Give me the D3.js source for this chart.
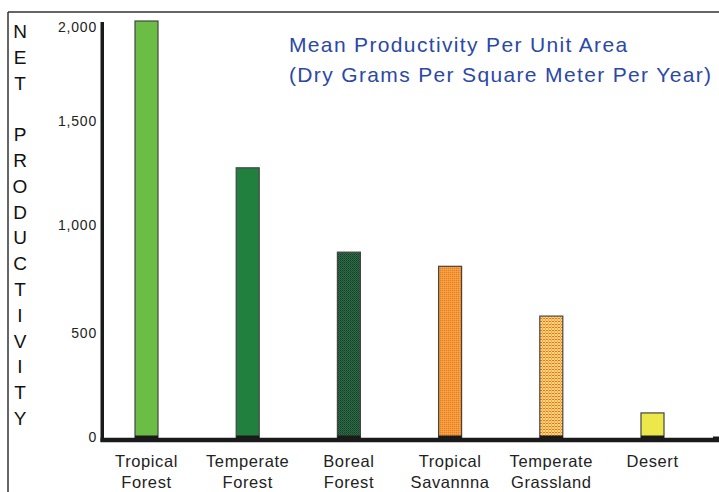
<!DOCTYPE html>
<html>
<head>
<meta charset="utf-8">
<script src="https://cdn.jsdelivr.net/npm/d3@7/dist/d3.min.js"></script>
<style>
  html, body { margin: 0; padding: 0; background: #fff; }
  svg { display: block; }
  text { font-family: "Liberation Sans", Arial, sans-serif; }
</style>
</head>
<body>
<svg id="chart" width="719" height="492"></svg>
<script>
// ---- data ----
const categories = ["Tropical Forest", "Temperate Forest", "Boreal Forest", "Tropical Savannna", "Temperate Grassland", "Desert"];
const labelLines = [["Tropical", "Forest"], ["Temperate", "Forest"], ["Boreal", "Forest"], ["Tropical", "Savannna"], ["Temperate", "Grassland"], ["Desert"]];
const productivity = [2000, 1295, 890, 822, 583, 118];
const yTicks = [0, 500, 1000, 1500, 2000];
const titleLines = ["Mean Productivity Per Unit Area", "(Dry Grams Per Square Meter Per Year)"];
const yAxisTitle = "NET PRODUCTIVITY";
const barFills = ["#6cbd45", "#22803f", "url(#pBoreal)", "url(#pSavanna)", "url(#pGrass)", "#ece84a"];

// ---- layout ----
const svg = d3.select("#chart");
const W = 719, H = 492;

const defs = svg.append("defs");
// boreal: dark green checker
const pb = defs.append("pattern").attr("id", "pBoreal").attr("width", 2).attr("height", 2).attr("patternUnits", "userSpaceOnUse");
pb.append("rect").attr("width", 2).attr("height", 2).attr("fill", "#2f7045");
pb.append("rect").attr("width", 1).attr("height", 1).attr("fill", "#163a28");
pb.append("rect").attr("x", 1).attr("y", 1).attr("width", 1).attr("height", 1).attr("fill", "#1c4a35");
// savanna: orange checker
const ps = defs.append("pattern").attr("id", "pSavanna").attr("width", 2).attr("height", 2).attr("patternUnits", "userSpaceOnUse");
ps.append("rect").attr("width", 2).attr("height", 2).attr("fill", "#f59a38");
ps.append("rect").attr("width", 1).attr("height", 1).attr("fill", "#ec7a2c");
ps.append("rect").attr("x", 1).attr("y", 1).attr("width", 1).attr("height", 1).attr("fill", "#f3a844");
// grassland: yellow-orange with red dashed grid
const pg = defs.append("pattern").attr("id", "pGrass").attr("width", 3).attr("height", 3).attr("patternUnits", "userSpaceOnUse");
pg.append("rect").attr("width", 3).attr("height", 3).attr("fill", "#f9d870");
pg.append("rect").attr("width", 2).attr("height", 1).attr("fill", "#ef6a3a");
pg.append("rect").attr("x", 2).attr("y", 1).attr("width", 1).attr("height", 2).attr("fill", "#f4a850");

// frame
svg.append("line").attr("x1", 8).attr("x2", W).attr("y1", 12).attr("y2", 12).attr("stroke", "#333").attr("stroke-width", 1.5);
svg.append("line").attr("x1", 8).attr("x2", 8).attr("y1", 12).attr("y2", H).attr("stroke", "#333").attr("stroke-width", 1.5);

const y = d3.scaleLinear().domain([0, 2000]).range([437.5, 21]);
const x = d3.scalePoint().domain(categories).range([146.5, 652.5]);
const barW = 23;

// bars
svg.append("g").selectAll("rect").data(categories).join("rect")
  .attr("x", d => x(d) - barW / 2)
  .attr("y", (d, i) => y(productivity[i]))
  .attr("width", barW)
  .attr("height", (d, i) => y(0) - y(productivity[i]))
  .attr("fill", (d, i) => barFills[i])
  .attr("stroke", "#444")
  .attr("stroke-width", 1.2);
// dark foot of each bar
svg.append("g").selectAll("rect").data(categories).join("rect")
  .attr("x", d => x(d) - barW / 2)
  .attr("y", y(0) - 2)
  .attr("width", barW)
  .attr("height", 3)
  .attr("fill", "#1a1a1a");

// y axis (labels)
const yAxis = d3.axisLeft(y).tickValues(yTicks).tickSize(0).tickPadding(0).tickFormat(d3.format(","));
const gy = svg.append("g").attr("transform", "translate(97,0)").call(yAxis);
gy.select(".domain").remove();
gy.selectAll("text").attr("font-size", 14).attr("fill", "#222").attr("letter-spacing", 0.8)
  .style("font-family", "'Liberation Sans', Arial, sans-serif");
gy.selectAll(".tick").filter(d => d === 2000).select("text").attr("dy", "0.75em");
gy.selectAll(".tick").filter(d => d === 1500 || d === 1000).select("text").attr("dy", "0.05em");

// axis lines
svg.append("line").attr("x1", 102.25).attr("x2", 102.25).attr("y1", 22).attr("y2", 442).attr("stroke", "#1a1a1a").attr("stroke-width", 3.5);
svg.append("line").attr("x1", 100.5).attr("x2", W).attr("y1", y(0) + 2.5).attr("y2", y(0) + 2.5).attr("stroke", "#1a1a1a").attr("stroke-width", 4.5);
svg.append("line").attr("x1", 713).attr("x2", W).attr("y1", y(0)).attr("y2", y(0)).attr("stroke", "#1a1a1a").attr("stroke-width", 2);

// x labels
const gx = svg.append("g");
categories.forEach((c, i) => {
  const t = gx.append("text").attr("x", x(c)).attr("y", 467).attr("text-anchor", "middle")
    .attr("font-size", 16.5).attr("letter-spacing", 0.6).attr("fill", "#222");
  labelLines[i].forEach((ln, j) => {
    t.append("tspan").attr("x", x(c)).attr("dy", j === 0 ? 0 : 21).text(ln);
  });
});

// vertical axis title
const letters = yAxisTitle.split("");
svg.append("g").selectAll("text").data(letters).join("text")
  .attr("x", 20)
  .attr("y", (d, i) => 38 + i * 25.8)
  .attr("text-anchor", "middle")
  .attr("font-size", 19)
  .attr("fill", "#111")
  .text(d => d);

// title
svg.append("g").selectAll("text").data(titleLines).join("text")
  .attr("x", 289)
  .attr("y", (d, i) => 52 + i * 30)
  .attr("font-size", 21)
  .attr("letter-spacing", 1.35)
  .attr("fill", "#2b48a6")
  .text(d => d);
</script>
</body>
</html>
